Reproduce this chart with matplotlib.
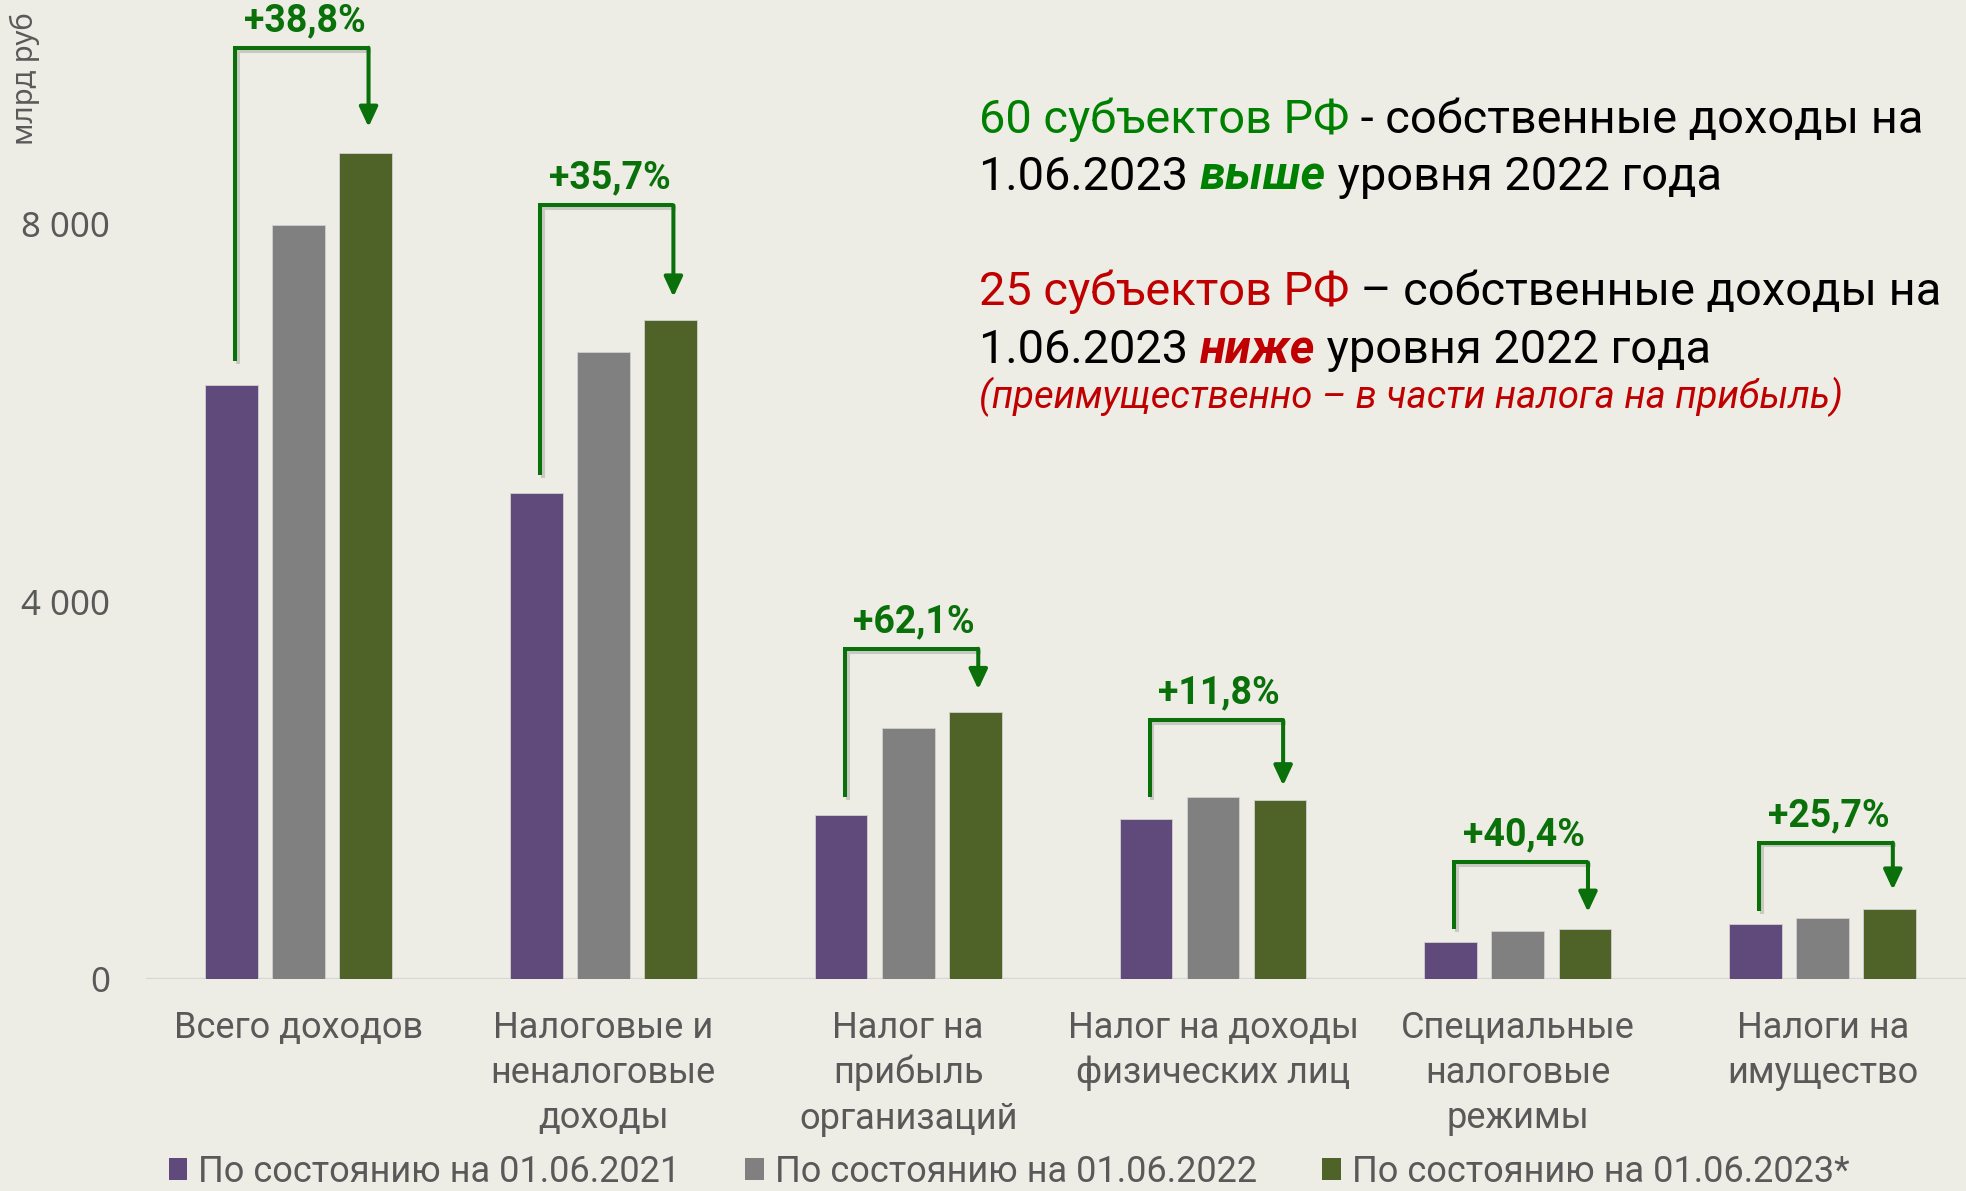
import matplotlib
matplotlib.use("Agg")
import matplotlib.pyplot as plt
import numpy as np
from matplotlib.patches import Rectangle
import matplotlib.patheffects as pe

# ---------------- data ----------------
categories = ["Всего доходов",
              "Налоговые и\nненалоговые\nдоходы",
              "Налог на\nприбыль\nорганизаций",
              "Налог на доходы\nфизических лиц",
              "Специальные\nналоговые\nрежимы",
              "Налоги на\nимущество"]
series_names = ["По состоянию на 01.06.2021",
                "По состоянию на 01.06.2022",
                "По состоянию на 01.06.2023*"]
values_2021 = [6300, 5150, 1740, 1700, 390, 585]
values_2022 = [7990, 6650, 2660, 1930, 505, 650]
values_2023 = [8750, 6980, 2830, 1900, 535, 745]
growth_labels = ["+38,8%", "+35,7%", "+62,1%", "+11,8%", "+40,4%", "+25,7%"]
yticks = [0, 4000, 8000]
ytick_labels = ["0", "4 000", "8 000"]
y_label = "млрд руб"

# annotation layout (bracket heights, in axis units)
bracket_tops = [9870, 8200, 3500, 2745, 1235, 1445]
bracket_bottom_gap = [250, 190, 190, 225, 135, 135]
bracket_tip_gap = [280, 250, 240, 150, 175, 200]

# ---------------- style ----------------
BG = "#EDEDE5"
COLORS = ["#604A7B", "#808080", "#4F6228"]
ANN = "#0A700A"
GREEN = "#008000"
RED = "#C00000"
GRAYTXT = "#595959"
W, H = 1966, 1191

fig = plt.figure(figsize=(W / 100, H / 100), dpi=100, facecolor=BG)
ax = fig.add_axes([146 / W, (H - 979) / H, 1820 / W, 979 / H])
ax.set_facecolor("none")

x = np.arange(len(categories))
step = 0.22
bw = 0.173
series = [values_2021, values_2022, values_2023]
for i, (vals, c) in enumerate(zip(series, COLORS)):
    ax.bar(x + (i - 1) * step, vals, width=bw, color=c, zorder=3,
           edgecolor="#d0d0d0", linewidth=0.6)

ax.set_xlim(-0.5, 5.47)
ax.set_ylim(0, 10376)
for s in ax.spines.values():
    s.set_visible(False)
ax.axhline(0, color="#D6D6D6", lw=1.6, zorder=2)

ax.set_yticks(yticks, ytick_labels)
ax.tick_params(axis="y", length=0, pad=26, labelsize=25, labelcolor=GRAYTXT)
for t in ax.get_yticklabels():
    t.set_fontfamily(["Noto Sans", "DejaVu Sans"])

ax.set_xticks(x, categories)
ax.tick_params(axis="x", length=0, pad=22, labelsize=26, labelcolor=GRAYTXT)
for t in ax.get_xticklabels():
    t.set_fontfamily(["Roboto", "DejaVu Sans"])
    t.set_linespacing(1.33)
    t.set_ha("center")

fig.text(25 / W, 1 - 79 / H, y_label, rotation=90, ha="center", va="center",
         fontsize=21, color=GRAYTXT, family=["Noto Sans", "DejaVu Sans"])

# ---------------- growth brackets ----------------
shadow = [pe.SimpleLineShadow(offset=(2, -2), shadow_color="#888888", alpha=0.35), pe.Normal()]
for i in range(len(categories)):
    xl = x[i] - step + 0.012
    xr = x[i] + step + 0.01
    yb = values_2021[i] + bracket_bottom_gap[i]
    yt = bracket_tops[i]
    ytip = values_2023[i] + bracket_tip_gap[i]
    ax.plot([xl, xl, xr], [yb, yt, yt], color=ANN, lw=2.9, solid_joinstyle="miter",
            solid_capstyle="butt", zorder=5, path_effects=shadow)
    ax.annotate("", xy=(xr, ytip), xytext=(xr, yt),
                arrowprops=dict(arrowstyle="-|>,head_length=0.6,head_width=0.28",
                                color=ANN, lw=2.9, shrinkA=0, shrinkB=0,
                                mutation_scale=20),
                zorder=5)
    ax.annotate(growth_labels[i], xy=(x[i] + 0.02, yt), xytext=(0, 12),
                textcoords="offset points", ha="center", va="baseline",
                fontsize=27, fontweight="bold", color=ANN,
                family=["Roboto", "DejaVu Sans"], zorder=6)

# ---------------- right-hand text ----------------
fig.canvas.draw()
renderer = fig.canvas.get_renderer()
inv = fig.transFigure.inverted()


def rich_line(x0, y0, pieces):
    xx = x0
    for s, kw in pieces:
        t = fig.text(xx, y0, s, ha="left", va="baseline", **kw)
        bb = t.get_window_extent(renderer)
        xx = inv.transform((bb.x1, bb.y0))[0]


FS = 33.8
base = dict(fontsize=FS, color="black", family=["Roboto", "DejaVu Sans"])
tx = 979 / W
rich_line(tx, 1 - 133 / H, [("60 субъектов РФ", {**base, "color": GREEN}),
                            (" - собственные доходы на", base)])
rich_line(tx, 1 - 190 / H, [("1.06.2023 ", base),
                            ("выше", {**base, "color": GREEN, "fontweight": "bold", "fontstyle": "italic"}),
                            (" уровня 2022 года", base)])
rich_line(tx, 1 - 305 / H, [("25 субъектов РФ", {**base, "color": RED}),
                            (" – собственные доходы на", base)])
rich_line(tx, 1 - 363 / H, [("1.06.2023 ", base),
                            ("ниже", {**base, "color": RED, "fontweight": "bold", "fontstyle": "italic"}),
                            (" уровня 2022 года", base)])
rich_line(tx, 1 - 408 / H, [("(преимущественно – в части налога на прибыль)",
                             dict(fontsize=27.5, color=RED, fontstyle="italic",
                                  family=["Roboto", "DejaVu Sans"]))])

# ---------------- legend ----------------
handles = [Rectangle((0, 0), 1, 1, facecolor=c, edgecolor="none") for c in COLORS]
leg = fig.legend(handles, series_names, ncol=3, loc="center",
                 bbox_to_anchor=(1009 / W, 1 - 1172 / H), frameon=False,
                 handlelength=0.52, handleheight=0.55, handletextpad=0.3,
                 columnspacing=1.8, borderpad=0.2,
                 prop={"family": ["Roboto", "DejaVu Sans"], "size": 26})
for t in leg.get_texts():
    t.set_color(GRAYTXT)

fig.savefig("out.png", dpi=100, facecolor=BG)
